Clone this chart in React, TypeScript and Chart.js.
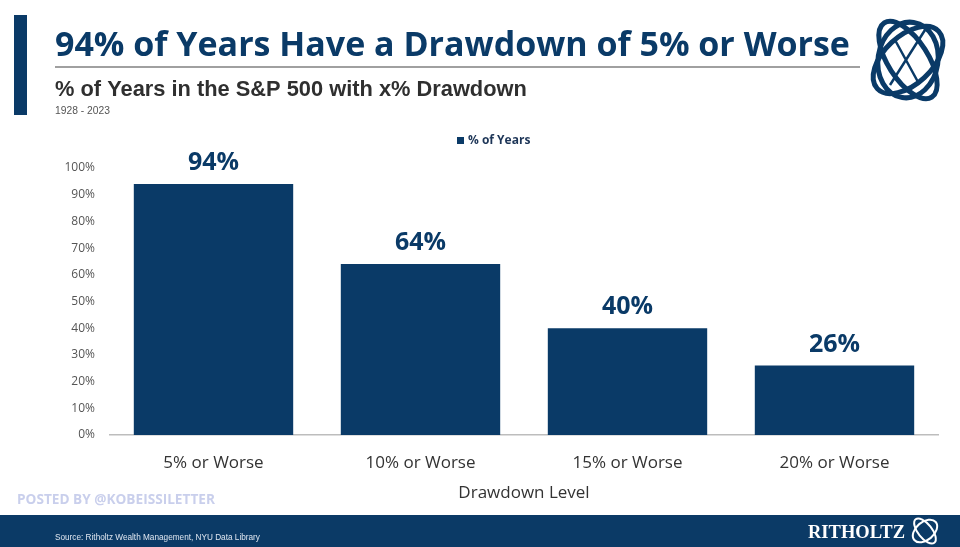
import React, { useEffect, useRef } from "react";
import { Chart, registerables } from "chart.js";

Chart.register(...registerables);

const categories = ["5% or Worse", "10% or Worse", "15% or Worse", "20% or Worse"];
const pctOfYears = [94, 64, 40, 26];
const seriesName = "% of Years";
const titleText = "94% of Years Have a Drawdown of 5% or Worse";
const subtitleText = "% of Years in the S&P 500 with x% Drawdown";
const periodText = "1928 - 2023";
const xAxisTitle = "Drawdown Level";
const postedText = "POSTED BY @KOBEISSILETTER";
const sourceText = "Source: Ritholtz Wealth Management, NYU Data Library";
const brandText = "RITHOLTZ";

const NAVY = "#0a3a67";

function fitFont(ctx: CanvasRenderingContext2D, text: string, weight: string, family: string, base: number, width: number) {
  ctx.font = `${weight} ${base}px ${family}`;
  const w = ctx.measureText(text).width;
  const size = (base * width) / w;
  return `${weight} ${size.toFixed(2)}px ${family}`;
}

const decorPlugin = {
  id: "decor",
  afterDraw(chart: any) {
    const ctx: CanvasRenderingContext2D = chart.ctx;
    ctx.save();
    // left accent bar
    ctx.fillStyle = NAVY;
    ctx.fillRect(14, 15, 13, 100);
    // title
    ctx.fillStyle = NAVY;
    ctx.textBaseline = "middle";
    ctx.textAlign = "left";
    ctx.font = fitFont(ctx, titleText, "bold", '"Open Sans", sans-serif', 30, 795);
    ctx.fillText(titleText, 55, 46);
    // underline
    ctx.strokeStyle = "#a0a0a0";
    ctx.lineWidth = 2;
    ctx.beginPath();
    ctx.moveTo(55, 67);
    ctx.lineTo(860, 67);
    ctx.stroke();
    // subtitle
    ctx.fillStyle = "#2f2f2f";
    ctx.font = fitFont(ctx, subtitleText, "bold", '"Liberation Sans", Arial, sans-serif', 17, 472);
    ctx.fillText(subtitleText, 55, 90);
    ctx.fillStyle = "#555";
    ctx.font = fitFont(ctx, periodText, "normal", '"Liberation Sans", Arial, sans-serif', 10, 55);
    ctx.fillText(periodText, 55, 111);
    // logo (approximation)
    ctx.strokeStyle = NAVY;
    ctx.lineWidth = 5;
    const cx = 908, cy = 60;
    [[-0.75, 42, 24], [1.0, 44, 20], [0.15, 30, 38]].forEach(([r, a, b]) => {
      ctx.beginPath();
      ctx.ellipse(cx, cy, a, b, r, 0, Math.PI * 2);
      ctx.stroke();
    });
    ctx.lineWidth = 2.5;
    ctx.beginPath();
    ctx.moveTo(890, 85);
    ctx.lineTo(925, 30);
    ctx.moveTo(895, 40);
    ctx.lineTo(918, 82);
    ctx.stroke();
    // legend
    ctx.fillStyle = NAVY;
    ctx.fillRect(457, 137, 7, 7);
    ctx.fillStyle = "#1d3557";
    ctx.font = 'bold 12px "Open Sans", sans-serif';
    ctx.textAlign = "left";
    ctx.fillText(seriesName, 468, 141);
    // bar value labels
    const meta = chart.getDatasetMeta(0);
    ctx.fillStyle = NAVY;
    ctx.textAlign = "center";
    ctx.textBaseline = "middle";
    ctx.font = 'bold 25px "Open Sans", sans-serif';
    meta.data.forEach((bar: any, i: number) => {
      ctx.fillText(pctOfYears[i] + "%", bar.x, bar.y - 21);
    });
    // x axis title
    ctx.fillStyle = "#333";
    ctx.font = '17px "Open Sans", sans-serif';
    ctx.fillText(xAxisTitle, 524, 493);
    // posted by
    ctx.textAlign = "left";
    ctx.fillStyle = "#c9cfec";
    ctx.font = fitFont(ctx, postedText, "bold", '"Open Sans", sans-serif', 10, 198);
    ctx.fillText(postedText, 17, 500);
    // footer band
    ctx.fillStyle = "#0b3a66";
    ctx.fillRect(0, 515, 960, 32);
    ctx.fillStyle = "#dfe6f0";
    ctx.font = fitFont(ctx, sourceText, "normal", '"Liberation Sans", Arial, sans-serif', 7, 205);
    ctx.fillText(sourceText, 55, 538);
    ctx.fillStyle = "#ffffff";
    ctx.font = fitFont(ctx, brandText, "bold", '"Liberation Serif", serif', 17, 97);
    ctx.fillText(brandText, 808, 533);
    ctx.strokeStyle = "#ffffff";
    ctx.lineWidth = 2;
    [[-0.7, 14, 9], [0.9, 15, 7]].forEach(([r, a, b]) => {
      ctx.beginPath();
      ctx.ellipse(925, 531, a, b, r, 0, Math.PI * 2);
      ctx.stroke();
    });
    ctx.restore();
  },
};

export default function App() {
  const ref = useRef<HTMLCanvasElement | null>(null);
  useEffect(() => {
    if (!ref.current) return;
    const chart = new Chart(ref.current, {
      type: "bar",
      data: {
        labels: categories,
        datasets: [
          {
            label: seriesName,
            data: pctOfYears,
            backgroundColor: NAVY,
            categoryPercentage: 1,
            barPercentage: 0.77,
          },
        ],
      },
      options: {
        responsive: false,
        animation: false,
        layout: { padding: { top: 168, left: 0, right: 22, bottom: 0 } },
        plugins: { legend: { display: false }, tooltip: { enabled: false }, title: { display: false } },
        scales: {
          x: {
            grid: { display: false, drawTicks: false },
            border: { display: true, color: "#bdbdbd", width: 1.5 },
            ticks: { color: "#333", font: { size: 17, family: '"Open Sans", sans-serif' }, padding: 18 },
            afterFit: (s: any) => { s.height = 112; },
          },
          y: {
            min: 0,
            max: 100,
            grid: { display: false, drawTicks: false },
            border: { display: false },
            ticks: {
              stepSize: 10,
              color: "#555",
              font: { size: 12, family: '"Open Sans", sans-serif' },
              padding: 15,
              callback: (v: any) => v + "%",
            },
            afterFit: (s: any) => { s.width = 110; },
          },
        },
      },
      plugins: [decorPlugin],
    });
    return () => chart.destroy();
  }, []);
  return (
    <div style={{ position: "fixed", left: 0, top: 0, width: 960, height: 547, background: "#fff" }}>
      <canvas ref={ref} width={960} height={547} style={{ display: "block" }} />
    </div>
  );
}
